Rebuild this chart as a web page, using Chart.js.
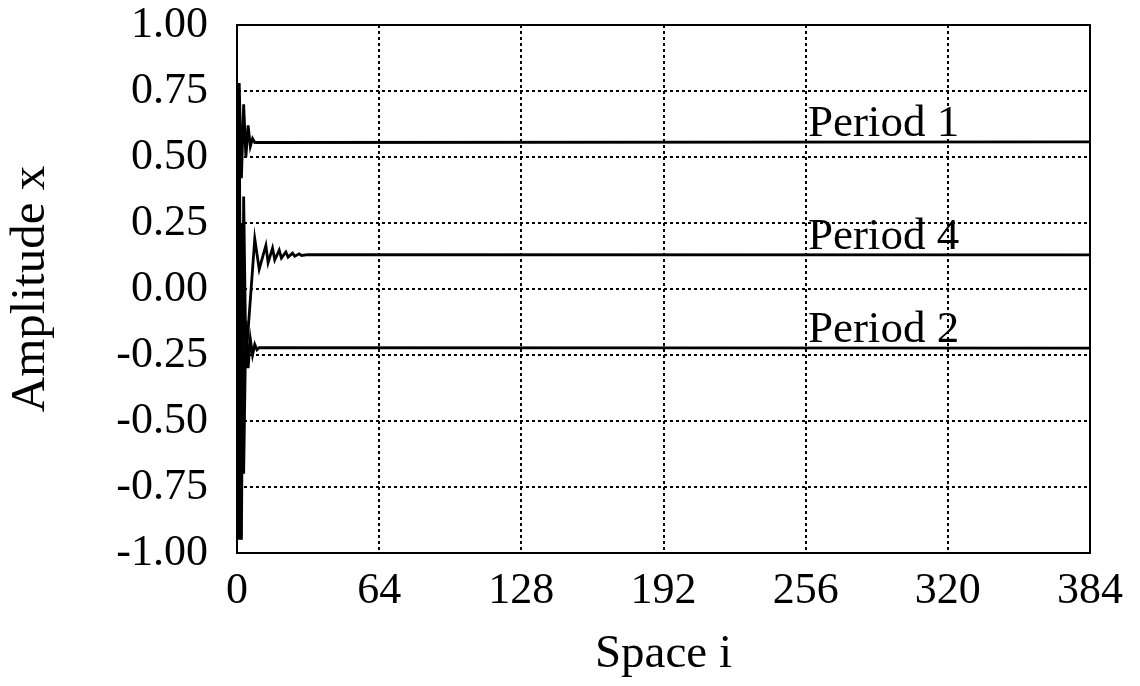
<!DOCTYPE html>
<html>
<head>
<meta charset="utf-8">
<script src="https://cdn.jsdelivr.net/npm/chart.js@4"></script>
<style>
  html, body { margin: 0; padding: 0; background: #fff; }
  #wrap { width: 1140px; height: 686px; }
</style>
</head>
<body>
<div id="wrap"><canvas id="chart" width="1140" height="686"></canvas></div>
<script>
// tick labels
const xTicks = [0, 64, 128, 192, 256, 320, 384]
const yTicks = [1.00, 0.75, 0.50, 0.25, 0.00, -0.25, -0.50, -0.75, -1.00]

// Period 1 (space index i, amplitude x)
const period1I = [0, 1, 2, 3, 4, 5, 6, 7, 8, 384]
const period1X = [0.05, 0.78, 0.42, 0.70, 0.50, 0.62, 0.54, 0.57, 0.555, 0.557]

// Period 4
const period4I = [0, 1, 2, 3, 4, 8, 10, 13, 14, 16, 17, 19, 20, 22, 23, 25, 26, 28, 29, 32, 384]
const period4X = [-0.45, 0.72, -0.95, 0.35, -0.27, 0.19, 0.075, 0.165, 0.10, 0.155, 0.11, 0.147, 0.117, 0.14, 0.121, 0.136, 0.124, 0.133, 0.127, 0.13, 0.129]

// Period 2
const period2I = [0, 1, 2, 3, 4, 5, 6, 7, 8, 9, 10, 384]
const period2X = [0.35, -0.95, 0.25, -0.70, -0.12, -0.30, -0.19, -0.25, -0.21, -0.23, -0.222, -0.224]

const labelNames = ['Period 1', 'Period 4', 'Period 2']
const labelAtI = 257

function pts(xs, ys) {
  return xs.map((x, k) => ({ x: x, y: ys[k] }))
}

const serif = 'Liberation Serif'

const frame = {
  id: 'frame',
  afterDraw(chart) {
    const { ctx, chartArea: a } = chart
    ctx.save()
    ctx.strokeStyle = '#000'
    ctx.lineWidth = 2
    ctx.strokeRect(a.left, a.top, a.right - a.left, a.bottom - a.top)
    ctx.restore()
  }
}

const periodLabels = {
  id: 'periodLabels',
  afterDatasetsDraw(chart) {
    const { ctx, scales } = chart
    ctx.save()
    ctx.fillStyle = '#000'
    ctx.font = '45px "' + serif + '"'
    ctx.textAlign = 'left'
    ctx.textBaseline = 'alphabetic'
    chart.data.datasets.forEach((ds, k) => {
      const last = ds.data[ds.data.length - 1]
      ctx.fillText(labelNames[k], scales.x.getPixelForValue(labelAtI), scales.y.getPixelForValue(last.y) - 6)
    })
    ctx.restore()
  }
}

const lineStyle = { borderColor: '#000', borderWidth: 2.8, pointRadius: 0, tension: 0, fill: false }

new Chart(document.getElementById('chart'), {
  type: 'line',
  data: {
    datasets: [
      Object.assign({ label: 'Period 1', data: pts(period1I, period1X) }, lineStyle),
      Object.assign({ label: 'Period 4', data: pts(period4I, period4X) }, lineStyle),
      Object.assign({ label: 'Period 2', data: pts(period2I, period2X) }, lineStyle)
    ]
  },
  options: {
    responsive: false,
    animation: false,
    layout: { padding: { top: 25, right: 50, left: 0, bottom: 0 } },
    plugins: { legend: { display: false }, tooltip: { enabled: false } },
    scales: {
      x: {
        type: 'linear',
        min: 0,
        max: 384,
        afterBuildTicks: s => { s.ticks = xTicks.map(v => ({ value: v })) },
        afterFit: s => { s.height = 133; s.paddingLeft = 0; s.paddingRight = 0 },
        ticks: { color: '#000', font: { family: serif, size: 44 }, padding: 12, maxRotation: 0 },
        grid: { color: '#000', lineWidth: 2, drawTicks: false },
        border: { color: '#000', width: 2, dash: [3, 3] },
        title: { display: true, text: 'Space i', color: '#000', font: { family: serif, size: 47 }, padding: { top: 0, bottom: 3 } }
      },
      y: {
        min: -1,
        max: 1,
        afterBuildTicks: s => { s.ticks = yTicks.map(v => ({ value: v })) },
        afterFit: s => { s.width = 237; s.paddingTop = 0; s.paddingBottom = 0 },
        ticks: { color: '#000', font: { family: serif, size: 44 }, padding: 29, callback: v => v.toFixed(2) },
        grid: { color: '#000', lineWidth: 2, drawTicks: false },
        border: { color: '#000', width: 2, dash: [3, 3] },
        title: { display: true, text: 'Amplitude x', color: '#000', font: { family: serif, size: 49 }, padding: { top: 2, bottom: 0 } }
      }
    }
  },
  plugins: [frame, periodLabels]
})
</script>
</body>
</html>
